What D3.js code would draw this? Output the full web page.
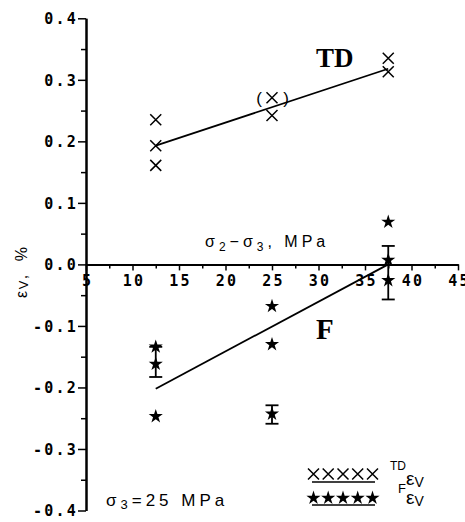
<!DOCTYPE html>
<html>
<head>
<meta charset="utf-8">
<script src="https://cdn.jsdelivr.net/npm/d3@7"></script>
<style>
  body { margin: 0; background: #fff; }
  .tick_label { font-family: "DejaVu Sans Mono", monospace; font-size: 15px; font-weight: bold; letter-spacing: 2.2px; fill: #000; }
  .sans { font-family: "Liberation Sans", Arial, sans-serif; }
  .wide { letter-spacing: 4px; }
  .serif { font-family: "Liberation Serif", "Times New Roman", serif; font-weight: bold; }
</style>
</head>
<body>
<div id="chart"></div>
<script>
// TD points (crosses)
var tdX = [12.5, 12.5, 12.5, 25, 37.5, 37.5];
var tdY = [0.235, 0.193, 0.161, 0.242, 0.335, 0.313];
// bracketed TD point
var tdBracketX = [25];
var tdBracketY = [0.271];
// TD fit line
var tdFitX = [12.5, 37.5];
var tdFitY = [0.193, 0.318];

// F points (stars)
var fX = [12.5, 12.5, 12.5, 25, 25, 25, 37.5, 37.5, 37.5];
var fY = [-0.134, -0.162, -0.247, -0.068, -0.130, -0.243, 0.069, 0.007, -0.026];
// F error bars
var errX = [12.5, 25, 37.5];
var errLow = [-0.183, -0.259, -0.057];
var errHigh = [-0.134, -0.229, 0.030];
// F fit line
var fFitX = [12.5, 37.5];
var fFitY = [-0.202, 0.0];

var xTicks = [5, 10, 15, 20, 25, 30, 35, 40, 45];
var xMinor = [7.5, 12.5, 17.5, 22.5, 27.5, 32.5, 37.5, 42.5];
var yTicks = [-0.4, -0.3, -0.2, -0.1, 0.0, 0.1, 0.2, 0.3, 0.4];
var yMinor = [-0.35, -0.25, -0.15, -0.05, 0.05, 0.15, 0.25, 0.35];

var svgWidth = 465, svgHeight = 522;

var svg = d3.select("#chart").append("svg")
    .attr("width", svgWidth)
    .attr("height", svgHeight);

var x = d3.scaleLinear().domain([5, 45]).range([86, 458]);
var y = d3.scaleLinear().domain([-0.4, 0.4]).range([510.5, 18.3]);

var crossPath = "M-5.5,-5.5L5.5,5.5M-5.5,5.5L5.5,-5.5";
var star = d3.symbol().type(d3.symbolStar).size(62);

// y axis
var yAxis = svg.append("g")
    .attr("transform", "translate(" + x(5) + ",0)")
    .call(d3.axisLeft(y).tickValues(yTicks).tickSize(8).tickSizeOuter(0)
        .tickFormat(function(d) { return (Math.round(d * 10) / 10).toFixed(1); }));
yAxis.selectAll("text").attr("class", "tick_label").attr("x", -8).attr("dy", "0.36em");
svg.append("g")
    .attr("transform", "translate(" + x(5) + ",0)")
    .call(d3.axisLeft(y).tickValues(yMinor).tickSize(5).tickSizeOuter(0).tickFormat(""));

// x axis at zero
var xAxis = svg.append("g")
    .attr("transform", "translate(0," + y(0) + ")")
    .call(d3.axisBottom(x).tickValues(xTicks).tickSize(6).tickSizeOuter(0).tickFormat(d3.format("d")));
xAxis.selectAll("text").attr("class", "tick_label").attr("y", 11).attr("dy", "0.71em").attr("dx", "1px");
svg.append("g")
    .attr("transform", "translate(0," + y(0) + ")")
    .call(d3.axisBottom(x).tickValues(xMinor).tickSize(4).tickSizeOuter(0).tickFormat(""));

svg.selectAll(".domain").attr("stroke-width", 2);
svg.selectAll(".tick line").attr("stroke-width", 1.5);

// fit lines
var line = d3.line().x(function(d) { return x(d[0]); }).y(function(d) { return y(d[1]); });
svg.append("path")
    .attr("d", line(d3.zip(tdFitX, tdFitY)))
    .attr("stroke", "#000").attr("stroke-width", 1.8).attr("fill", "none");
svg.append("path")
    .attr("d", line(d3.zip(fFitX, fFitY)))
    .attr("stroke", "#000").attr("stroke-width", 1.8).attr("fill", "none");

// TD crosses
svg.selectAll(".td").data(d3.zip(tdX, tdY)).enter().append("path")
    .attr("class", "td")
    .attr("transform", function(d) { return "translate(" + x(d[0]) + "," + y(d[1]) + ")"; })
    .attr("d", crossPath).attr("stroke", "#000").attr("stroke-width", 1.5).attr("fill", "none");

// bracketed cross
var br = svg.selectAll(".tdb").data(d3.zip(tdBracketX, tdBracketY)).enter().append("g")
    .attr("class", "tdb")
    .attr("transform", function(d) { return "translate(" + x(d[0]) + "," + y(d[1]) + ")"; });
br.append("path").attr("d", crossPath).attr("stroke", "#000").attr("stroke-width", 1.5).attr("fill", "none");
br.append("text").attr("class", "sans").attr("x", -13).attr("y", 6).attr("text-anchor", "middle")
    .attr("font-size", 17).text("(");
br.append("text").attr("class", "sans").attr("x", 14).attr("y", 6).attr("text-anchor", "middle")
    .attr("font-size", 17).text(")");

// F error bars
var eb = svg.selectAll(".err").data(d3.zip(errX, errLow, errHigh)).enter().append("g").attr("class", "err");
eb.append("line")
    .attr("x1", function(d) { return x(d[0]); }).attr("x2", function(d) { return x(d[0]); })
    .attr("y1", function(d) { return y(d[1]); }).attr("y2", function(d) { return y(d[2]); })
    .attr("stroke", "#000").attr("stroke-width", 1.8);
[1, 2].forEach(function(k) {
    eb.append("line")
        .attr("x1", function(d) { return x(d[0]) - 6.5; }).attr("x2", function(d) { return x(d[0]) + 6.5; })
        .attr("y1", function(d) { return y(d[k]); }).attr("y2", function(d) { return y(d[k]); })
        .attr("stroke", "#000").attr("stroke-width", 1.8);
});

// F stars
svg.selectAll(".f").data(d3.zip(fX, fY)).enter().append("path")
    .attr("class", "f")
    .attr("transform", function(d) { return "translate(" + x(d[0]) + "," + y(d[1]) + ")"; })
    .attr("d", star).attr("fill", "#000");

// series labels
svg.append("text").attr("class", "serif").attr("x", 316).attr("y", 67)
    .attr("font-size", 27).text("TD");
svg.append("text").attr("class", "serif").attr("x", 316).attr("y", 339)
    .attr("font-size", 29).text("F");

// axis titles
var xt = svg.append("text").attr("class", "sans wide").attr("x", 205).attr("y", 247).attr("font-size", 16)
    .attr("xml:space", "preserve");
xt.append("tspan").text("σ");
xt.append("tspan").attr("font-size", 12).attr("dy", 4).text("2");
xt.append("tspan").attr("dy", -4).text("−σ");
xt.append("tspan").attr("font-size", 12).attr("dy", 4).text("3");
xt.append("tspan").attr("dy", -4).text(", MPa");

var yt = svg.append("text").attr("class", "sans").attr("font-size", 16)
    .attr("letter-spacing", 1.5).attr("xml:space", "preserve")
    .attr("transform", "translate(27,298) rotate(-90)");
yt.append("tspan").text("ε");
yt.append("tspan").attr("font-size", 13).attr("dy", 1).text("V");
yt.append("tspan").attr("dy", -1).text(",  %");

var st = svg.append("text").attr("class", "sans wide").attr("x", 106).attr("y", 506).attr("font-size", 17)
    .attr("xml:space", "preserve");
st.append("tspan").text("σ");
st.append("tspan").attr("font-size", 13).attr("dy", 3).text("3");
st.append("tspan").attr("dy", -3).text("=25 MPa");

// legend
var legendX = [313.5, 328.2, 343, 357.7, 372.5];
var lg = svg.append("g");
legendX.forEach(function(lx) {
    lg.append("path").attr("transform", "translate(" + lx + ",474)")
        .attr("d", crossPath).attr("stroke", "#000").attr("stroke-width", 1.5).attr("fill", "none");
    lg.append("path").attr("transform", "translate(" + lx + ",498)")
        .attr("d", star).attr("fill", "#000");
});
lg.append("line").attr("x1", 312).attr("x2", 375).attr("y1", 482).attr("y2", 482).attr("stroke", "#000").attr("stroke-width", 1.5);
lg.append("line").attr("x1", 312).attr("x2", 375).attr("y1", 505).attr("y2", 505).attr("stroke", "#000").attr("stroke-width", 1.5);
lg.append("text").attr("class", "sans").attr("x", 390).attr("y", 470).attr("font-size", 12).text("TD");
var l1 = lg.append("text").attr("class", "sans").attr("x", 406).attr("y", 485).attr("font-size", 19);
l1.append("tspan").text("ε");
l1.append("tspan").attr("font-size", 14).attr("dy", 2).text("V");
lg.append("text").attr("class", "sans").attr("x", 398).attr("y", 493).attr("font-size", 13).text("F");
var l2 = lg.append("text").attr("class", "sans").attr("x", 406).attr("y", 504).attr("font-size", 19);
l2.append("tspan").text("ε");
l2.append("tspan").attr("font-size", 14).attr("dy", 2).text("V");
</script>
</body>
</html>
